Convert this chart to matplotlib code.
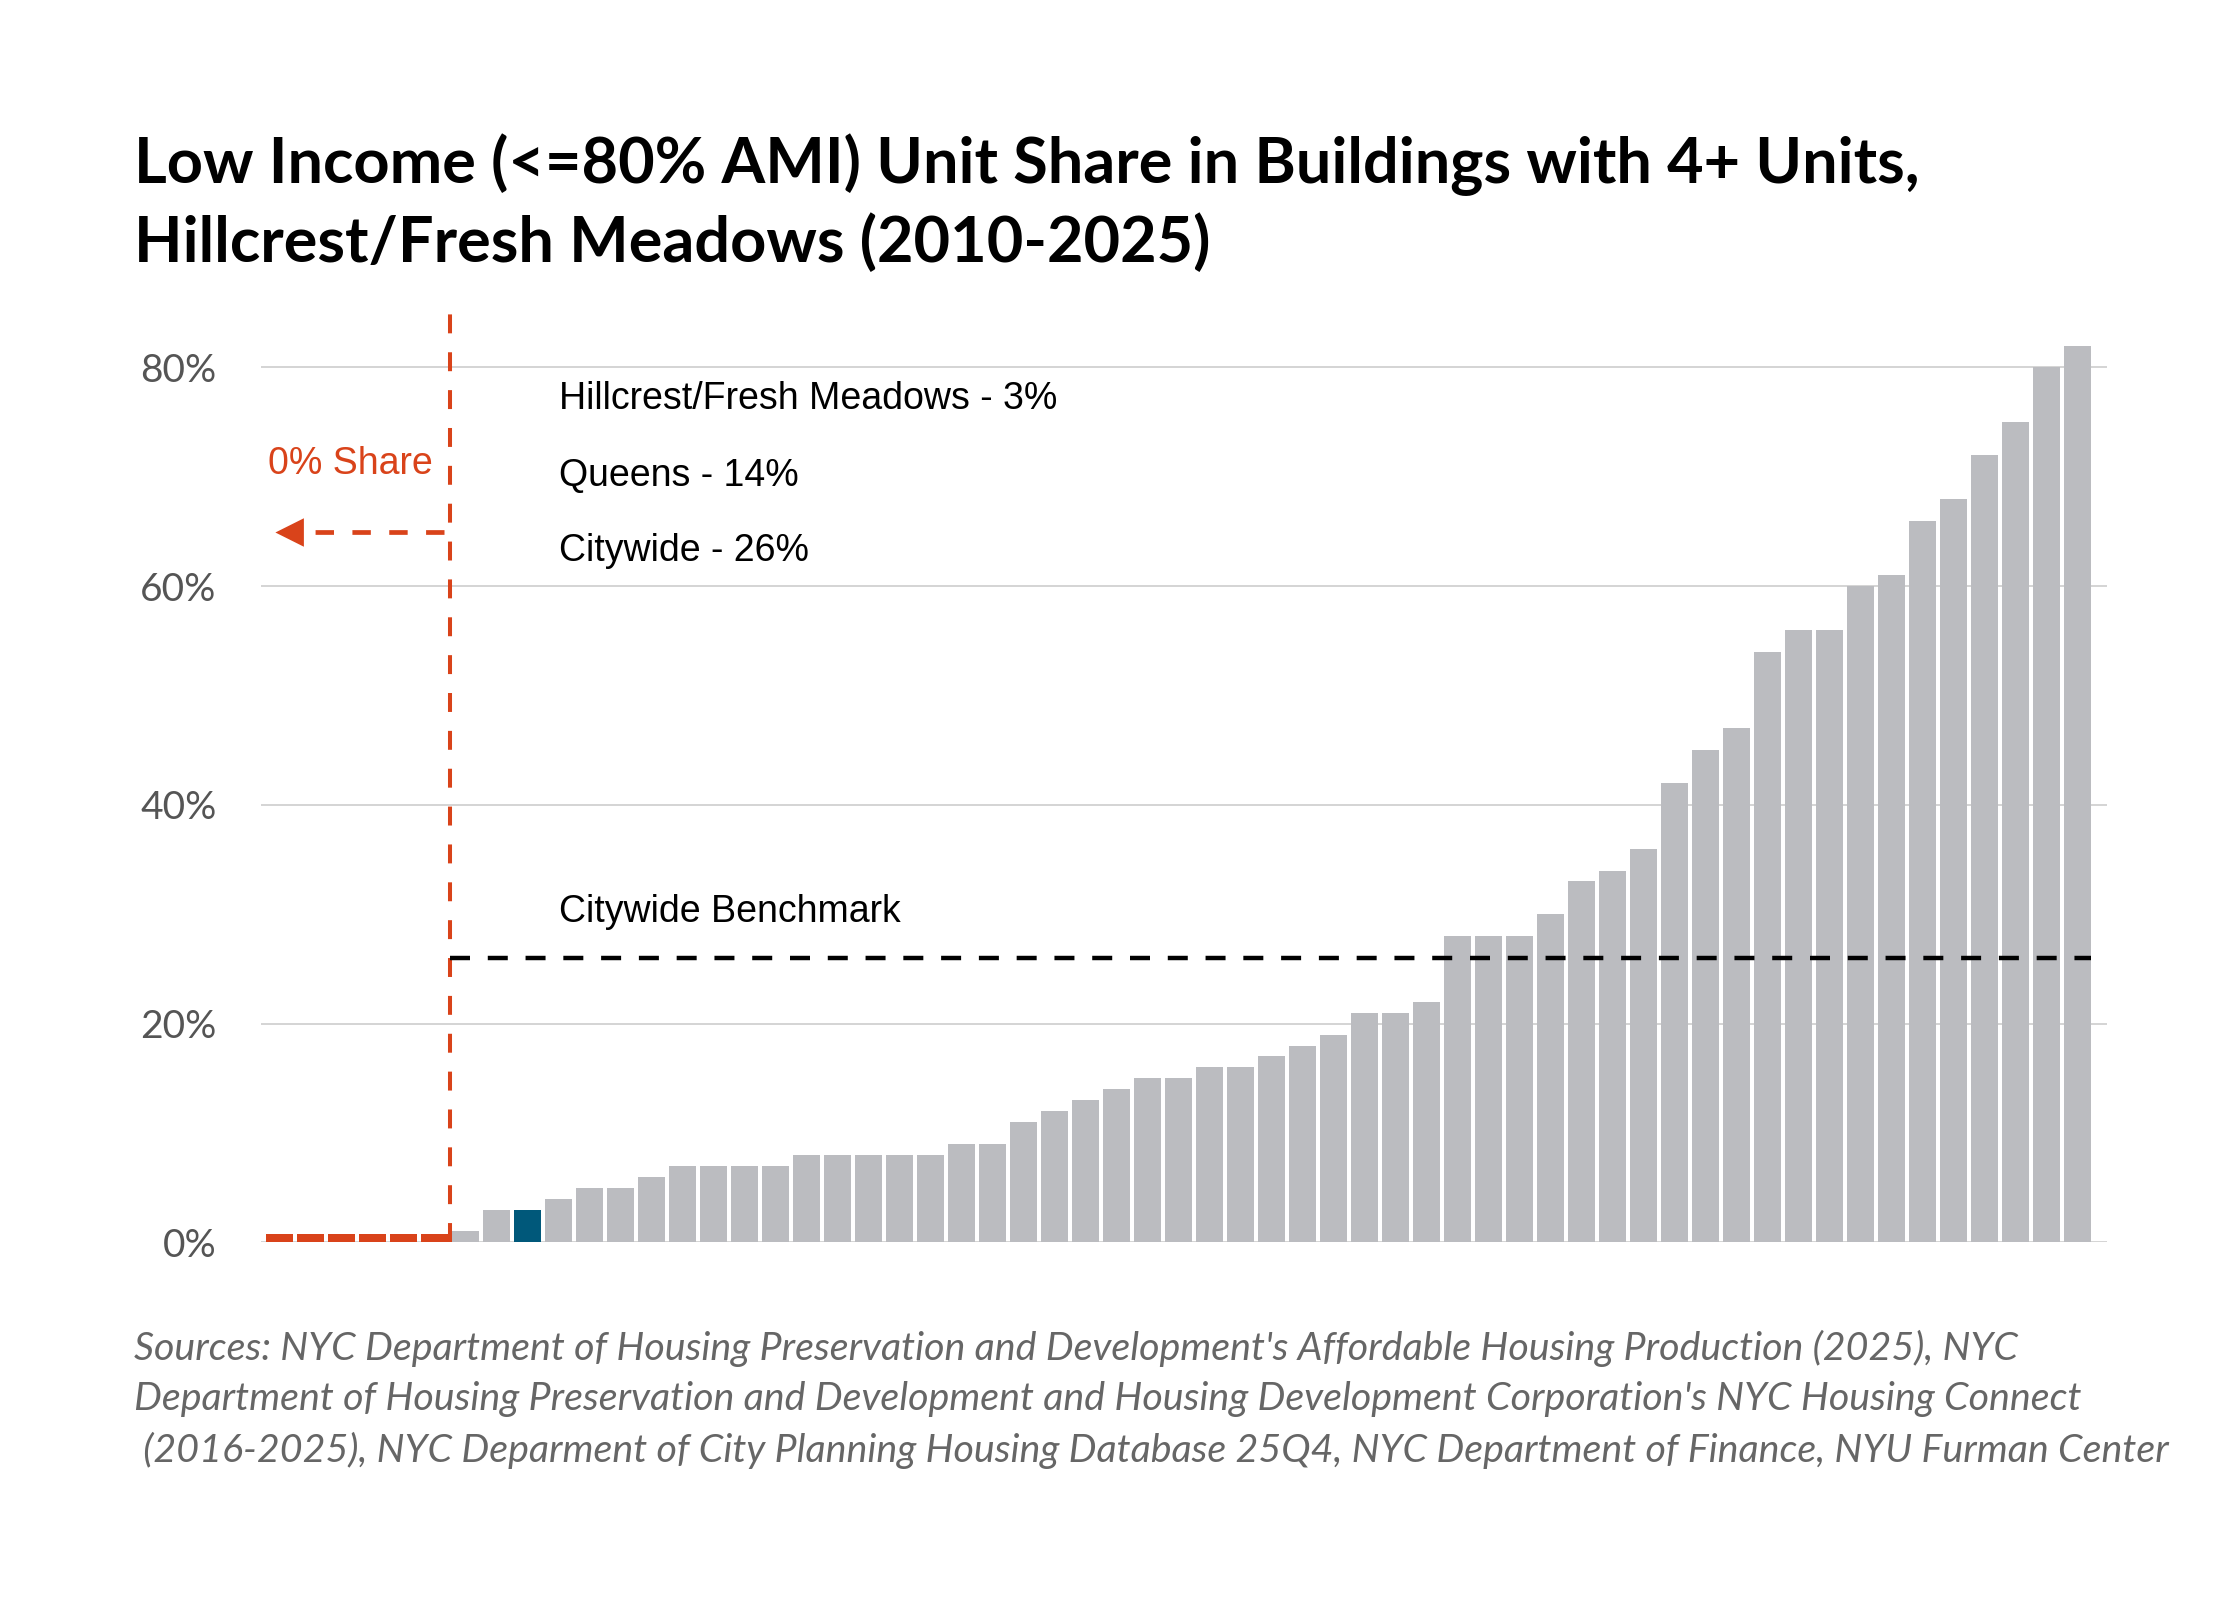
import matplotlib.pyplot as plt

# low income unit share by community district, sorted; first six have none
shares = [0, 0, 0, 0, 0, 0,
          1, 3, 3, 4, 5, 5, 6, 7, 7, 7, 7, 8, 8, 8, 8, 8, 9, 9,
          11, 12, 13, 14, 15, 15, 16, 16, 17, 18, 19, 21, 21, 22,
          28, 28, 28, 30, 33, 34, 36, 42, 45, 47, 54, 56, 56, 60,
          61, 66, 68, 72, 75, 80, 82]
highlight_idx = 8          # Hillcrest/Fresh Meadows
benchmark = 26
notes = ['Hillcrest/Fresh Meadows - 3%', 'Queens - 14%', 'Citywide - 26%']
yticks = [0, 20, 40, 60, 80]

title = ('Low Income (<=80% AMI) Unit Share in Buildings with 4+ Units,\n'
         'Hillcrest/Fresh Meadows (2010-2025)')
source = ("Sources: NYC Department of Housing Preservation and Development's Affordable Housing Production (2025), NYC\n"
          "Department of Housing Preservation and Development and Housing Development Corporation's NYC Housing Connect\n"
          " (2016-2025), NYC Deparment of City Planning Housing Database 25Q4, NYC Department of Finance, NYU Furman Center")

GRAY = '#bbbcc0'
TEAL = '#00587a'
ORANGE = '#d9431a'

fig = plt.figure(figsize=(11.2, 8), dpi=200)
ax = fig.add_axes([0.1165, 0.2235, 0.824, 0.5810])

x = list(range(len(shares)))
colors = [TEAL if i == highlight_idx else GRAY for i in x]
nonzero = [i for i in x if shares[i] > 0]
zeros = [i for i in x if shares[i] == 0]

ax.bar(nonzero, [shares[i] for i in nonzero], width=0.87,
       color=[colors[i] for i in nonzero], zorder=2)
# zero-share districts marked with a thin orange stub
ax.bar(zeros, [0.75] * len(zeros), width=0.87, color=ORANGE, zorder=3)

split = len(zeros) - 0.5
ax.plot([split, split], [0, 85], color=ORANGE, lw=1.45,
        linestyle=(0, (4.7, 4.7)), zorder=4)
ax.plot([split, x[-1] + 0.45], [benchmark, benchmark], color='black', lw=1.6,
        linestyle=(0, (4.5, 4.0)), zorder=4)
ax.plot([split - 0.18, 0.5], [65, 65], color=ORANGE, lw=1.7,
        linestyle=(0, (3.9, 3.9)), zorder=4)
ax.plot([0.35], [65], marker='<', markersize=8.5, color=ORANGE, zorder=4)

ax.text(4.93, 71.2, '0% Share', color=ORANGE, fontsize=13.5,
        family='Liberation Sans', ha='right', va='center')
for note, y in zip(notes, [77.1, 70.1, 63.2]):
    ax.text(9.0, y, note, fontsize=13.5, family='Liberation Sans',
            ha='left', va='center', color='black')
ax.text(9.0, 30.2, 'Citywide Benchmark', fontsize=13.5,
        family='Liberation Sans', ha='left', va='center', color='black')

ax.set_xlim(-0.6, 58.95)
ax.set_ylim(0, 85)
ax.set_yticks(yticks)
ax.set_yticklabels([f'{v}%' for v in yticks], family='Lato', fontsize=14,
                   color='#555555')
ax.set_xticks([])
ax.tick_params(axis='y', length=0, pad=16)
ax.yaxis.grid(True, color='#d4d4d4', lw=0.7, zorder=0)
ax.set_axisbelow(True)
for s in ax.spines.values():
    s.set_visible(False)

fig.text(0.060, 0.917, title, family='Lato', fontweight='bold', fontsize=22.7,
         ha='left', va='top', linespacing=1.36, color='black')
fig.text(0.060, 0.169, source, family='Lato', style='italic', fontsize=14.2,
         ha='left', va='top', linespacing=1.50, color='#666666')

fig.savefig('out.png', dpi=200, facecolor='white')
